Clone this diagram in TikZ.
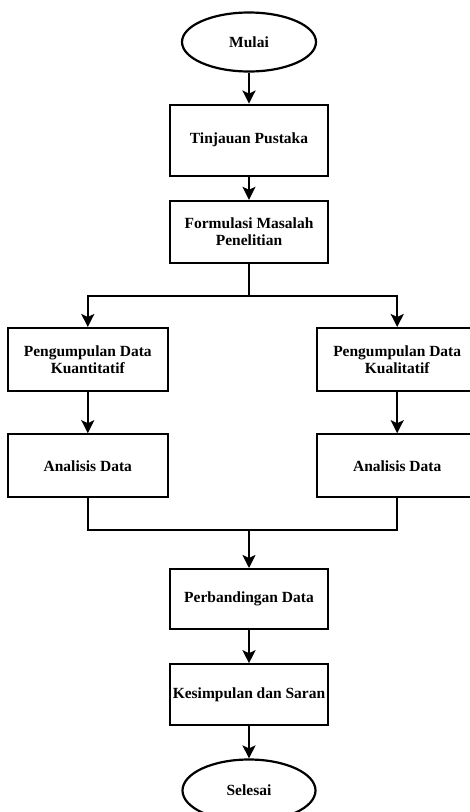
\documentclass[tikz,border=0pt]{standalone}
\usepackage{fontspec}
\setmainfont{Liberation Serif}
\usetikzlibrary{positioning, arrows.meta, shapes.geometric}

\begin{document}
\begin{tikzpicture}[
        x=1pt, y=1pt,
        node distance=30pt,
        every node/.style={font=\fontsize{15.5}{17.5}\selectfont\bfseries, align=center},
        terminal/.style={ellipse, draw, line width=2.2pt, minimum width=134pt, minimum height=59pt, inner sep=0pt},
        process/.style={rectangle, draw, line width=2.2pt, minimum width=158pt, inner sep=0pt},
        branch/.style={process, minimum width=160pt, minimum height=63pt},
        edge/.style={-{Stealth[length=13pt, width=13pt, inset=3pt]}, line width=2.2pt},
        link/.style={line width=2.2pt}
    ]
        \useasboundingbox (0,0) rectangle (470,-812);
        % Main column
        \node[terminal] (start) at (249,-42) {Mulai};
        \node[process, minimum height=71pt, below=31pt of start] (review) {Tinjauan Pustaka};
        \node[process, minimum height=62pt, below=23pt of review] (problem) {Formulasi Masalah\\Penelitian};
        \coordinate[below=32pt of problem] (split);
        % Two branches
        \node[branch, below left=63pt and 0pt of problem] (quant) {Pengumpulan Data\\Kuantitatif};
        \node[branch, below right=63pt and -13pt of problem] (qual) {Pengumpulan Data\\Kualitatif};
        \node[branch, below=41pt of quant] (quantA) {Analisis Data};
        \node[branch, below=41pt of qual] (qualA) {Analisis Data};
        % Merge and end
        \node[process, minimum height=60pt, below=304pt of problem] (compare) {Perbandingan Data};
        \coordinate[above=38pt of compare] (join);
        \node[process, minimum height=61pt, below=33pt of compare] (concl) {Kesimpulan dan Saran};
        \node[terminal, minimum width=133pt, minimum height=62pt, below=32pt of concl] (finish) {Selesai};
        % Edges: main column
        \draw[edge] (start) -- (review);
        \draw[edge] (review) -- (problem);
        \draw[link] (problem) -- (split);
        % Edges: branches
        \draw[edge] (split) -| (quant);
        \draw[edge] (split) -| (qual);
        \draw[edge] (quant) -- (quantA);
        \draw[edge] (qual) -- (qualA);
        \draw[link] (quantA) |- (join);
        \draw[link] (qualA) |- (join);
        % Edges: to the end
        \draw[edge] (join) -- (compare);
        \draw[edge] (compare) -- (concl);
        \draw[edge] (concl) -- (finish);
    \end{tikzpicture}
\end{document}
